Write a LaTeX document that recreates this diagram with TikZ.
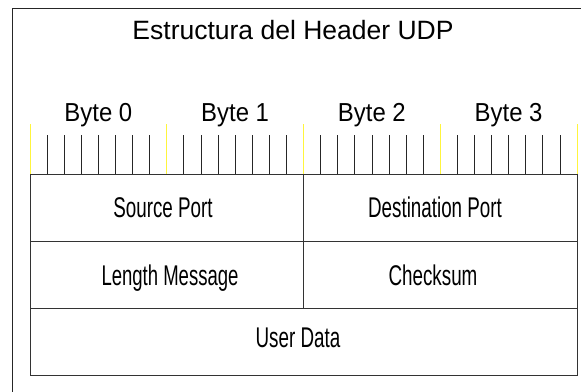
\documentclass[tikz,border=0pt]{standalone}
\usepackage{fontspec}
\setmainfont{Liberation Sans}
\definecolor{tickyellow}{RGB}{255,245,60}
\begin{document}
\begin{tikzpicture}[x=1pt,y=-1pt,
  frameline/.style={draw=black!85,line width=0.9pt},
  cell/.style={draw=black!80,line width=0.9pt,minimum height=67pt,inner sep=0pt},
  celltext/.style={anchor=base,inner sep=0pt,font=\fontsize{28.5}{30}\selectfont},
  bytelbl/.style={anchor=base,inner sep=0pt,font=\fontsize{26}{28}\selectfont},
  bytetick/.style={draw=tickyellow,line width=0.9pt},
  bittick/.style={draw=black!85,line width=0.7pt}]
\useasboundingbox (0,0) rectangle (581,391);
\begin{scope}
\clip (0,0) rectangle (581,391);
\draw[frameline] (12,8) rectangle (600,410);
\end{scope}
\node[anchor=base,inner sep=0pt,font=\fontsize{26.5}{28}\selectfont] (title) at (293,39) {Estructura del Header UDP};
% ticks
\foreach \k in {0,...,4}{
  \coordinate (yt\k) at ({30+136.75*\k},124);
  \coordinate (yb\k) at ({30+136.75*\k},174);
  \draw[bytetick] (yt\k) -- (yb\k);
}
\foreach \k in {0,...,3}{
  \foreach \j in {1,...,7}{
    \coordinate (bt\k\j) at ({30+136.75*\k+17.094*\j},135);
    \coordinate (bb\k\j) at ({30+136.75*\k+17.094*\j},174);
    \draw[bittick] (bt\k\j) -- (bb\k\j);
  }
  \node[bytelbl] (byte\k) at ({98.4+136.75*\k},121) {\scalebox{0.92}[1]{Byte \k}};
}
% table
\node[cell,minimum width=273.5pt] (src) at (166.75,207.5) {};
\node[cell,minimum width=273.5pt] (dst) at (440.25,207.5) {};
\node[cell,minimum width=273.5pt] (len) at (166.75,274.5) {};
\node[cell,minimum width=273.5pt] (chk) at (440.25,274.5) {};
\node[cell,minimum width=547pt] (data) at (303.5,341.5) {};
\node[celltext] (srct) at (163,217.5) {\scalebox{0.66}[1]{Source Port}};
\node[celltext] (dstt) at (435,217.5) {\scalebox{0.66}[1]{Destination Port}};
\node[celltext] (lent) at (170,285) {\scalebox{0.65}[1]{Length Message}};
\node[celltext] (chkt) at (433,285) {\scalebox{0.66}[1]{Checksum}};
\node[celltext] (datat) at (298,347) {\scalebox{0.66}[1]{User Data}};
\end{tikzpicture}
\end{document}
